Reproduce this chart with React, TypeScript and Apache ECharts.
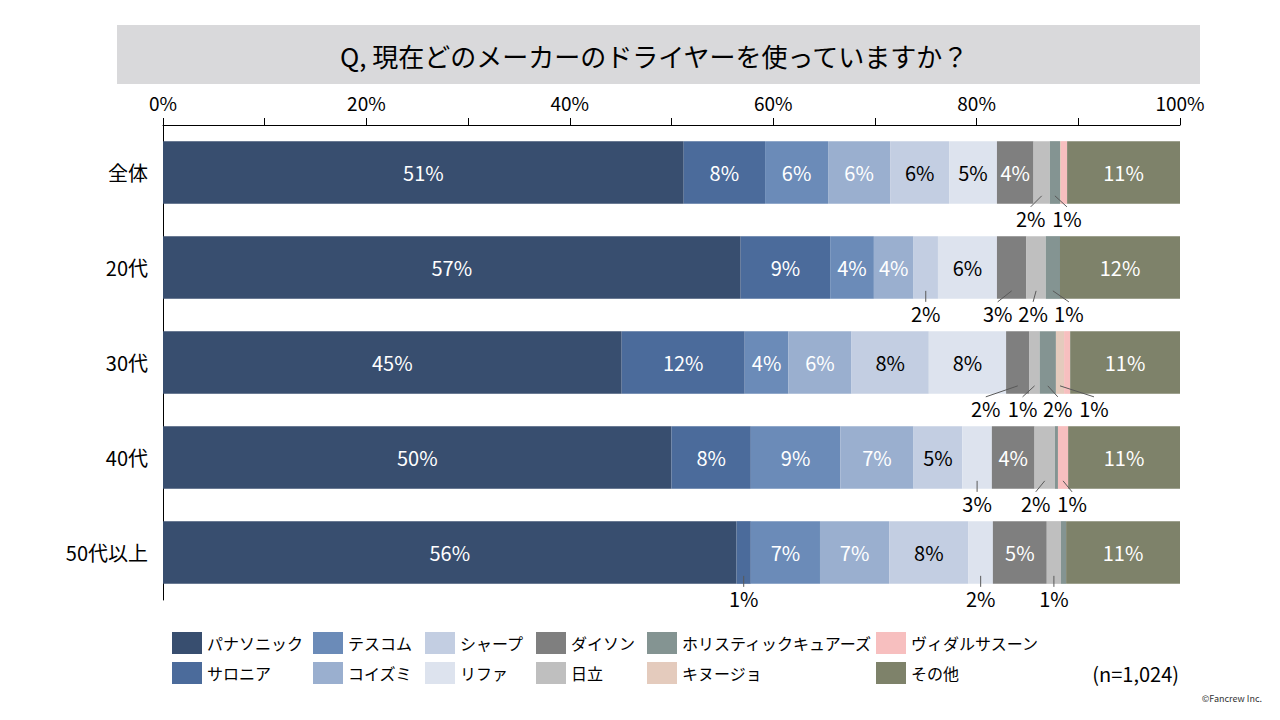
import React, { useEffect, useRef } from "react";
import * as echarts from "echarts";

// ---- data ----
const categories = ["全体", "20代", "30代", "40代", "50代以上"];
const brands = [
  "パナソニック",
  "サロニア",
  "テスコム",
  "コイズミ",
  "シャープ",
  "リファ",
  "ダイソン",
  "日立",
  "ホリスティックキュアーズ",
  "キヌージョ",
  "ヴィダルサスーン",
  "その他",
];
const panasonic = [51.2, 56.8, 45.1, 50.0, 56.4];
const salonia = [8.0, 8.8, 12.1, 7.8, 1.4];
const tescom = [6.2, 4.3, 4.3, 8.8, 6.8];
const koizumi = [6.1, 3.9, 6.2, 7.2, 6.8];
const sharp = [5.8, 2.4, 7.6, 4.8, 7.8];
const refa = [4.7, 5.8, 7.6, 2.9, 2.4];
const dyson = [3.6, 2.9, 2.3, 4.2, 5.3];
const hitachi = [1.6, 1.9, 1.0, 2.0, 1.4];
const holistic = [1.0, 1.4, 1.6, 0.3, 0.5];
const kinujo = [0.1, 0.0, 0.8, 0.0, 0.0];
const vidal = [0.6, 0.0, 0.6, 1.0, 0.0];
const others = [11.1, 11.8, 10.8, 11.0, 11.2];
const seriesValues = [
  panasonic, salonia, tescom, koizumi, sharp, refa,
  dyson, hitachi, holistic, kinujo, vidal, others,
];
const xTicks = [0, 20, 40, 60, 80, 100];
const sampleNote = "(n=1,024)";
const titleText = "Q, 現在どのメーカーのドライヤーを使っていますか？";

// ---- styles / layout ----
const brandColors = [
  "#384e6f", "#4b6b9b", "#6b8bb8", "#9aafcf", "#c3cee2", "#dde3ee",
  "#7f7f7f", "#bfbfbf", "#849492", "#e4cbbd", "#f7bfbf", "#7e826a",
];
const labelColors = [
  "#ffffff", "#ffffff", "#ffffff", "#ffffff", "#000000", "#000000",
  "#ffffff", "#000000", "#ffffff", "#000000", "#000000", "#ffffff",
];
// labels drawn below the bar: row, brand index, horizontal shift of the label
const outsideLabels = [
  { row: 0, brand: 7, dx: -11 },
  { row: 0, brand: 8, dx: 12 },
  { row: 1, brand: 4, dx: 0 },
  { row: 1, brand: 6, dx: -14 },
  { row: 1, brand: 7, dx: -3 },
  { row: 1, brand: 8, dx: 16 },
  { row: 2, brand: 6, dx: -32 },
  { row: 2, brand: 7, dx: -12 },
  { row: 2, brand: 8, dx: 10 },
  { row: 2, brand: 9, dx: 34 },
  { row: 3, brand: 5, dx: 0 },
  { row: 3, brand: 7, dx: -9 },
  { row: 3, brand: 10, dx: 9 },
  { row: 4, brand: 1, dx: 0 },
  { row: 4, brand: 5, dx: 0 },
  { row: 4, brand: 7, dx: 0 },
];
const legendColumns = [
  { left: 172, items: [0, 1] },
  { left: 313, items: [2, 3] },
  { left: 425, items: [4, 5] },
  { left: 536, items: [6, 7] },
  { left: 647, items: [8, 9] },
  { left: 876, items: [10, 11] },
];
const FONT = '"Noto Sans CJK JP", "Noto Sans", sans-serif';
const BAR_RATIO = 0.66;

export default function App() {
  const ref = useRef<HTMLDivElement>(null);

  useEffect(() => {
    if (!ref.current) return;
    const chart = echarts.init(ref.current, undefined, { renderer: "svg" });

    const barSeries = brands.map((name, i) => ({
      name,
      type: "bar",
      stack: "total",
      barWidth: (BAR_RATIO * 100).toFixed(0) + "%",
      itemStyle: { color: brandColors[i] },
      label: {
        show: true,
        position: "inside",
        color: labelColors[i],
        fontSize: 20,
        fontFamily: FONT,
        formatter: (p: any) => (p.value >= 3.5 ? Math.round(p.value) + "%" : ""),
      },
      emphasis: { disabled: true },
      data: seriesValues[i],
    }));

    const outsideData = outsideLabels.map((o) => {
      let start = 0;
      for (let k = 0; k < o.brand; k++) start += seriesValues[k][o.row];
      const v = seriesValues[o.brand][o.row];
      return [start + v / 2, o.row, v, o.dx];
    });

    const outsideSeries = {
      type: "custom",
      coordinateSystem: "cartesian2d",
      encode: { x: 0, y: 1 },
      clip: false,
      z: 10,
      silent: true,
      renderItem: (params: any, api: any) => {
        const p = api.coord([api.value(0), api.value(1)]);
        const band = api.size([0, 1])[1];
        const bottom = p[1] + (band * BAR_RATIO) / 2;
        const dx = api.value(3);
        const v = api.value(2);
        return {
          type: "group",
          children: [
            {
              type: "line",
              shape: { x1: p[0], y1: bottom - 8, x2: p[0] + dx, y2: bottom + 3 },
              style: { stroke: "#595959", lineWidth: 1 },
            },
            {
              type: "text",
              x: p[0] + dx,
              y: bottom + 15,
              style: {
                text: Math.round(v) + "%",
                fill: "#000",
                fontSize: 20,
                fontFamily: FONT,
                align: "center",
                verticalAlign: "middle",
              },
            },
          ],
        };
      },
      data: outsideData,
    };

    const legends = legendColumns.map((c) => ({
      orient: "vertical",
      left: c.left,
      top: 632,
      padding: 0,
      itemWidth: 30,
      itemHeight: 22,
      itemGap: 8,
      icon: "rect",
      selectedMode: false,
      textStyle: { fontSize: 16, color: "#000", fontFamily: FONT },
      data: c.items.map((i) => brands[i]),
    }));

    chart.setOption({
      animation: false,
      textStyle: { fontFamily: FONT },
      grid: { left: 163, right: 100, top: 125, height: 475, containLabel: false },
      xAxis: {
        type: "value",
        position: "top",
        min: 0,
        max: 100,
        interval: 10,
        axisLine: { show: true, lineStyle: { color: "#000", width: 1 } },
        axisTick: { show: true, length: 7, lineStyle: { color: "#000" } },
        splitLine: { show: false },
        axisLabel: {
          fontSize: 19,
          color: "#000",
          margin: 13,
          fontFamily: FONT,
          formatter: (v: number) => (xTicks.includes(v) ? v + "%" : ""),
        },
      },
      yAxis: {
        type: "category",
        inverse: true,
        data: categories,
        axisLine: { show: true, lineStyle: { color: "#000", width: 1 } },
        axisTick: { show: false },
        axisLabel: { fontSize: 20, color: "#000", margin: 15, fontFamily: FONT },
      },
      legend: legends,
      graphic: [
        {
          type: "rect",
          shape: { x: 117, y: 25, width: 1083, height: 59 },
          style: { fill: "#d9d9db" },
          silent: true,
        },
        {
          type: "text",
          x: 654,
          y: 55,
          style: {
            text: titleText,
            fontSize: 26,
            fill: "#000",
            fontFamily: FONT,
            align: "center",
            verticalAlign: "middle",
          },
        },
        {
          type: "text",
          x: 1179,
          y: 673,
          style: {
            text: sampleNote,
            fontSize: 20,
            fill: "#000",
            fontFamily: FONT,
            align: "right",
            verticalAlign: "middle",
          },
        },
        {
          type: "text",
          x: 1262,
          y: 698,
          style: {
            text: "©Fancrew Inc.",
            fontSize: 9,
            fill: "#333",
            fontFamily: FONT,
            align: "right",
            verticalAlign: "middle",
          },
        },
      ],
      series: [...barSeries, outsideSeries],
    });

    return () => chart.dispose();
  }, []);

  return (
    <div
      ref={ref}
      style={{ position: "fixed", left: 0, top: 0, width: 1280, height: 720, background: "#fff" }}
    />
  );
}
